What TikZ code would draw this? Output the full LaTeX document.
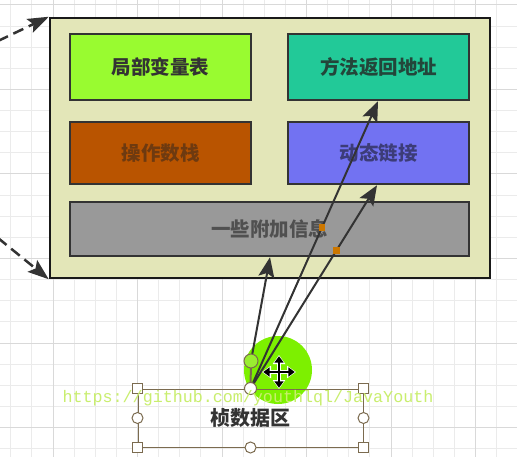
\documentclass[tikz,border=0pt]{standalone}
\usepackage{fontspec}
\newfontfamily\cjk{Noto Sans CJK SC}
\newfontfamily\monowm{Liberation Mono}
\usetikzlibrary{arrows.meta}
\definecolor{gridminor}{HTML}{EBEBEB}
\definecolor{gridmajor}{HTML}{D9D9D9}
\definecolor{outerfill}{HTML}{E3E6B8}
\definecolor{boxline}{HTML}{333333}
\definecolor{lvfill}{HTML}{99FB30}
\definecolor{opsfill}{HTML}{B95400}
\definecolor{retfill}{HTML}{22C998}
\definecolor{dynfill}{HTML}{7272F2}
\definecolor{extrafill}{HTML}{999999}
\definecolor{selbrown}{HTML}{7B6B4F}
\definecolor{lime}{HTML}{7DF000}
\definecolor{wpgreen}{HTML}{9AEE30}
\definecolor{dotorange}{HTML}{CC7700}
\definecolor{wmcolor}{HTML}{C9EE6E}
\tikzset{
  minorline/.style={draw=gridminor, line width=1pt},
  majorline/.style={draw=gridmajor, line width=1pt},
  membox/.style={draw=boxline, line width=2.5pt, inner sep=0pt, font=\cjk\bfseries\fontsize{19.5}{22}\selectfont},
  conn/.style={draw=boxline, line width=2pt, -{Stealth[length=20pt,width=16pt,inset=4pt]}},
  dasharrow/.style={draw=boxline, line width=2.5pt, dash pattern=on 11pt off 6pt, -{Stealth[length=21pt,width=15pt,inset=4pt]}},
  sqhandle/.style={draw=selbrown, fill=white, line width=1pt, minimum size=10pt, inner sep=0pt},
  cirhandle/.style={draw=selbrown, fill=white, line width=1pt, circle, minimum size=11pt, inner sep=0pt},
  lbldot/.style={fill=dotorange, minimum size=6.5pt, inner sep=0pt}
}
\begin{document}
\begin{tikzpicture}[x=1pt,y=-1pt]
\useasboundingbox (0,0) rectangle (517,457);
\fill[white] (0,0) rectangle (517,457);
% grid
\foreach \i in {0,...,24} \draw[minorline] ({10.75+21.125*\i},0) -- ({10.75+21.125*\i},457);
\foreach \i in {0,...,21} \draw[minorline] (0,{5+21.125*\i}) -- (517,{5+21.125*\i});
\foreach \i in {0,...,5} \draw[majorline] ({53+84.5*\i},0) -- ({53+84.5*\i},457);
\foreach \i in {0,...,5} \draw[majorline] (0,{5+84.5*\i}) -- (517,{5+84.5*\i});
% outer frame
\node[draw=black!90, line width=2.5pt, fill=outerfill, minimum width=440pt, minimum height=260pt, inner sep=0pt] (outer) at (270,148) {};
% memory boxes
\node[membox, fill=lvfill, minimum width=181pt, minimum height=66pt, text=black!80] (lv) at (160.5,67) {局部变量表};
\node[membox, fill=opsfill, minimum width=181pt, minimum height=62pt, text={rgb,255:red,110;green,58;blue,16}] (ops) at (160.5,153) {操作数栈};
\node[membox, fill=retfill, minimum width=181pt, minimum height=66pt, text={rgb,255:red,35;green,70;blue,58}] (ret) at (378.5,67) {方法返回地址};
\node[membox, fill=dynfill, minimum width=181pt, minimum height=62pt, text={rgb,255:red,60;green,60;blue,120}] (dyn) at (378.5,153) {动态链接};
\node[membox, fill=extrafill, minimum width=399pt, minimum height=54pt, text={rgb,255:red,80;green,80;blue,80}] (extra) at (269.5,229) {一些附加信息};
% left dashed arrows
\coordinate (in1) at (-2,41);
\coordinate (in2) at (-2,238);
\draw[dasharrow] (in1) -- (outer.north west);
\draw[dasharrow] (in2) -- (outer.south west);
% green highlight circle
\fill[lime] (278,370) circle (34);
% frame data box (selected)
\node[draw=selbrown, line width=1pt, minimum width=225pt, minimum height=58pt, inner sep=0pt, font=\cjk\bfseries\fontsize{20}{22}\selectfont, text=black!80] (fr) at (250.5,418) {桢数据区};
% connectors
\coordinate (wp) at (251,361);
\draw[draw=selbrown, line width=2pt] (fr.north) -- (wp);
\draw[conn] (wp) -- ([xshift=0.5pt]extra.south);
\draw[conn] (fr.north) -- ([xshift=-0.5pt]ret.south) node[lbldot, pos=0.56] (d1) {};
\draw[conn] (fr.north) -- ([xshift=-1.5pt]dyn.south) node[lbldot, pos=0.678] (d2) {};
% handles
\node[sqhandle] (h1) at (fr.north west) {};
\node[sqhandle] (h2) at (fr.north east) {};
\node[sqhandle] (h3) at (fr.south west) {};
\node[sqhandle] (h4) at (fr.south east) {};
\node[cirhandle] (h5) at (fr.west) {};
\node[cirhandle] (h6) at (fr.east) {};
\node[cirhandle] (h7) at (fr.south) {};
\node[cirhandle, minimum size=12pt] (h8) at (fr.north) {};
\node[draw=selbrown, fill=wpgreen, line width=1pt, circle, minimum size=14pt, inner sep=0pt] (wph) at (wp) {};
% move cursor
\coordinate (cl) at (262,372);
\coordinate (cr) at (296,372);
\coordinate (ct) at (279,355);
\coordinate (cb) at (279,389);
\draw[white, line width=4.5pt, {Triangle[length=9pt,width=12pt]}-{Triangle[length=9pt,width=12pt]}] (cl) -- (cr);
\draw[white, line width=4.5pt, {Triangle[length=9pt,width=12pt]}-{Triangle[length=9pt,width=12pt]}] (ct) -- (cb);
\draw[black, line width=2pt, {Triangle[length=6.5pt,width=9pt]}-{Triangle[length=6.5pt,width=9pt]}] ([xshift=1.2pt]cl) -- ([xshift=-1.2pt]cr);
\draw[black, line width=2pt, {Triangle[length=6.5pt,width=9pt]}-{Triangle[length=6.5pt,width=9pt]}] ([yshift=-1.2pt]ct) -- ([yshift=1.2pt]cb);
% watermark
\node[inner sep=0pt, text=wmcolor, font=\monowm\fontsize{16.7}{18}\selectfont] (wm) at (248,398) {https://github.com/youthlql/JavaYouth};
\end{tikzpicture}
\end{document}
